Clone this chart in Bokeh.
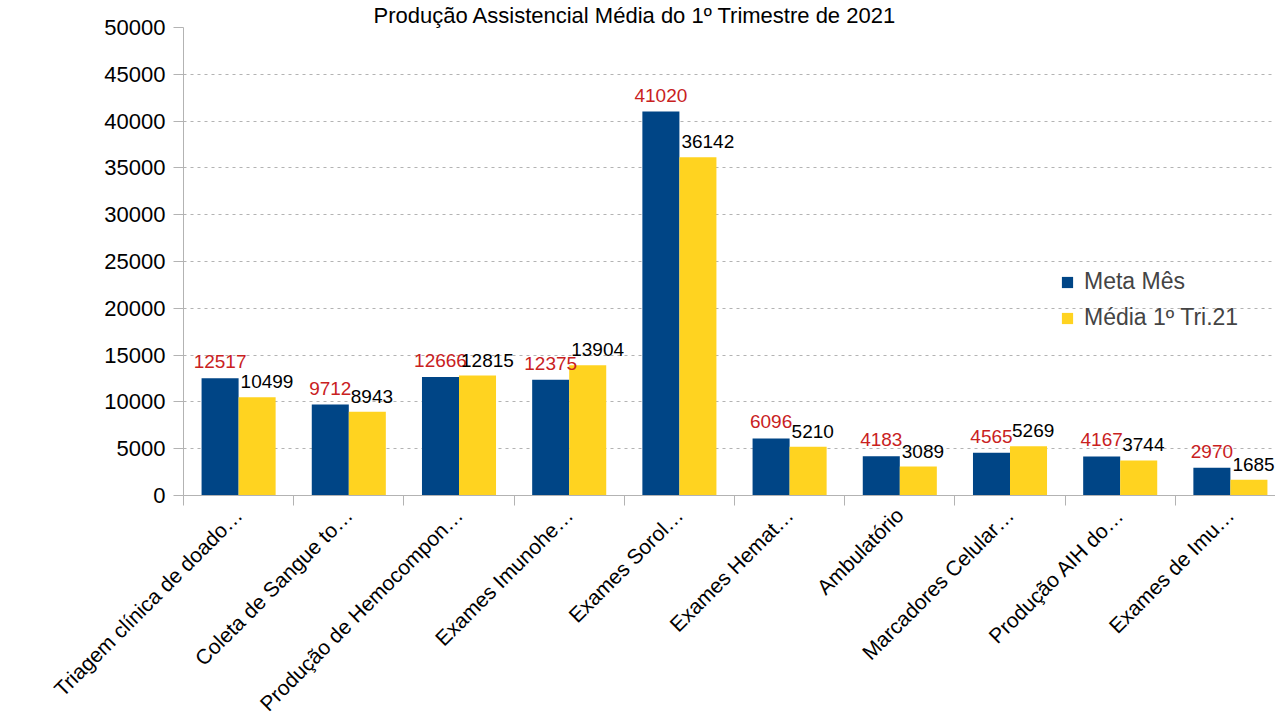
import numpy as np
from bokeh.plotting import figure
from bokeh.models import (ColumnDataSource, Range1d, FixedTicker, LabelSet, Title,
                          Legend, LegendItem, CustomJSTickFormatter)
from bokeh.core.properties import value
from bokeh.embed import file_html
from bokeh.resources import INLINE

title_text = "Produção Assistencial Média do 1º Trimestre de 2021"
categories = ["Triagem clínica de doado…", "Coleta de Sangue to…", "Produção de Hemocompon…",
              "Exames Imunohe…", "Exames Sorol…", "Exames Hemat…", "Ambulatório",
              "Marcadores Celular…", "Produção AIH do…", "Exames de Imu…"]
meta_mes = [12517, 9712, 12666, 12375, 41020, 6096, 4183, 4565, 4167, 2970]
media_tri = [10499, 8943, 12815, 13904, 36142, 5210, 3089, 5269, 3744, 1685]
series_names = ["Meta Mês", "Média 1º Tri.21"]
y_ticks = [0, 5000, 10000, 15000, 20000, 25000, 30000, 35000, 40000, 45000, 50000]

FONT = "Liberation Sans"
BLUE = "#004586"
YELLOW = "#ffd320"
RED = "#c9211e"
GRID = "#b3b3b3"

n = len(categories)
centers = np.arange(n) + 0.5
bw = 0.336
src = ColumnDataSource(dict(
    xb=centers - bw / 2, xy=centers + bw / 2, xl=centers,
    meta=meta_mes, media=media_tri,
    meta_txt=[str(v) for v in meta_mes], media_txt=[str(v) for v in media_tri],
))

p = figure(width=1275, height=728, output_backend="svg", toolbar_location=None,
           x_range=Range1d(0, 1092 / 110.2), y_range=Range1d(0, 50000),
           min_border_left=183, min_border_right=0, min_border_top=25, min_border_bottom=233)
p.outline_line_color = None
p.background_fill_color = "white"

p.add_layout(Title(text=title_text, text_font=FONT, text_font_size="22px",
                   text_font_style="normal", text_color="black", align="left",
                   offset=190, standoff=0, text_line_height=0.85), "above")

rb = p.vbar(x="xb", top="meta", width=bw, source=src, fill_color=BLUE, line_color=None)
ry = p.vbar(x="xy", top="media", width=bw, source=src, fill_color=YELLOW, line_color=None)

p.add_layout(LabelSet(x="xb", y="meta", text="meta_txt", source=src, text_align="center",
                      text_baseline="alphabetic", y_offset=10, text_color=RED,
                      text_font=value(FONT), text_font_size="19px"))
p.add_layout(LabelSet(x="xl", y="media", text="media_txt", source=src, text_align="left",
                      text_baseline="alphabetic", x_offset=2, y_offset=9, text_color="black",
                      text_font=value(FONT), text_font_size="19px"))

# axes
p.yaxis.ticker = FixedTicker(ticks=y_ticks, minor_ticks=[])
p.yaxis.major_label_text_font = FONT
p.yaxis.major_label_text_font_size = "22px"
p.yaxis.major_label_text_color = "black"
p.yaxis.axis_line_color = GRID
p.yaxis.major_tick_line_color = GRID
p.yaxis.major_tick_out = 10
p.yaxis.major_tick_in = 0
p.yaxis.minor_tick_line_color = None
p.yaxis.major_label_standoff = 8

p.xaxis.ticker = FixedTicker(ticks=list(centers), minor_ticks=list(np.arange(n + 1)))
p.xaxis.formatter = CustomJSTickFormatter(args=dict(cats=categories),
                                          code="return cats[Math.floor(tick)];")
p.xaxis.major_label_orientation = np.pi / 4
p.xaxis.major_label_text_font = FONT
p.xaxis.major_label_text_font_size = "21px"
p.xaxis.major_label_text_color = "black"
p.xaxis.axis_line_color = GRID
p.xaxis.major_tick_line_color = None
p.xaxis.major_tick_out = 0
p.xaxis.major_tick_in = 0
p.xaxis.minor_tick_line_color = GRID
p.xaxis.minor_tick_out = 10
p.xaxis.minor_tick_in = 0
p.xaxis.major_label_standoff = 6

p.xgrid.grid_line_color = None
p.ygrid.grid_line_color = GRID
p.ygrid.grid_line_dash = "3 4"

legend = Legend(items=[LegendItem(label=series_names[0], renderers=[rb]),
                       LegendItem(label=series_names[1], renderers=[ry])],
                location=(877, 164), padding=0, margin=0, spacing=9,
                glyph_width=14, glyph_height=14, label_standoff=10,
                label_text_font=FONT, label_text_font_size="23px",
                background_fill_alpha=0, border_line_alpha=0)
p.add_layout(legend, "center")

open("out.html", "w").write(file_html(p, INLINE))
